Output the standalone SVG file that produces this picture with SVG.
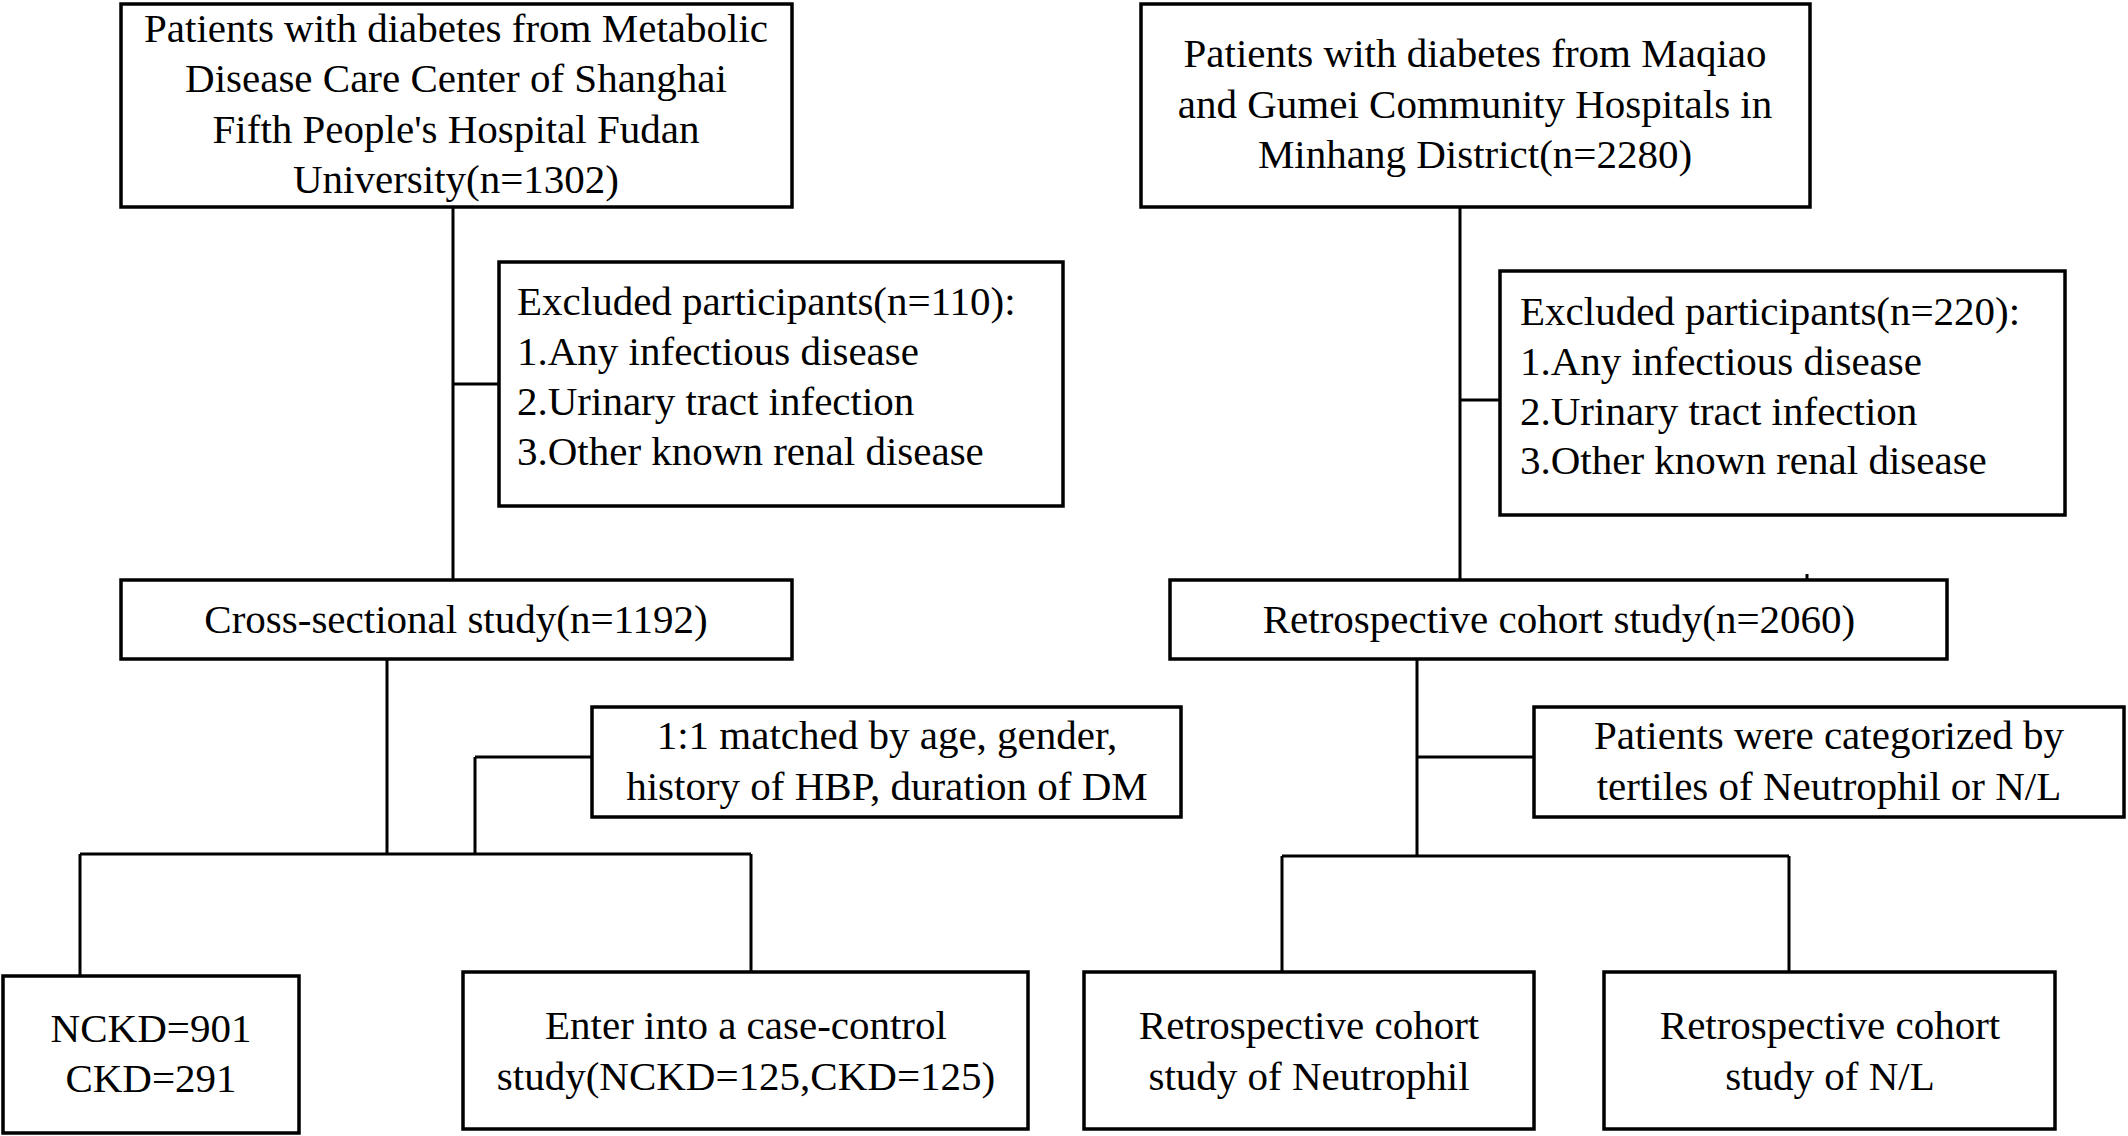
<svg xmlns="http://www.w3.org/2000/svg" width="2128" height="1136" viewBox="0 0 2128 1136">
<style>
.box{fill:#fff;stroke:#000;stroke-width:3.5}
.ln{fill:none;stroke:#000;stroke-width:3}
text{font-family:"Liberation Serif","Times New Roman",serif;font-size:41px;fill:#000}
.c{text-anchor:middle}
</style>
<rect width="2128" height="1136" fill="#fff"/>
<g id="connectors">
<path class="ln" d="M453,207V580M453,384H499"/>
<path class="ln" d="M1460,207V580M1460,400H1500"/>
<path class="ln" d="M387,659V854M80,854H751M80,854V976M751,854V972M475,757V854M475,757H592"/>
<path class="ln" d="M1417,659V856M1417,757H1534M1282,856H1789M1282,856V972M1789,856V972"/>
<path class="ln" d="M1807,574V580"/>
</g>
<g id="n1">
<rect class="box" x="121" y="4" width="671" height="203"/>
<text class="c" x="456" y="42">Patients with diabetes from Metabolic</text>
<text class="c" x="456" y="92">Disease Care Center of Shanghai</text>
<text class="c" x="456" y="143">Fifth People's Hospital Fudan</text>
<text class="c" x="456" y="193">University(n=1302)</text>
</g>
<g id="n2">
<rect class="box" x="1141" y="4" width="669" height="203"/>
<text class="c" x="1475" y="67">Patients with diabetes from Maqiao</text>
<text class="c" x="1475" y="118">and Gumei Community Hospitals in</text>
<text class="c" x="1475" y="168">Minhang District(n=2280)</text>
</g>
<g id="n3">
<rect class="box" x="499" y="262" width="564" height="244"/>
<text x="517" y="315">Excluded participants(n=110):</text>
<text x="517" y="365">1.Any infectious disease</text>
<text x="517" y="415">2.Urinary tract infection</text>
<text x="517" y="465">3.Other known renal disease</text>
</g>
<g id="n4">
<rect class="box" x="1500" y="271" width="565" height="244"/>
<text x="1520" y="325">Excluded participants(n=220):</text>
<text x="1520" y="375">1.Any infectious disease</text>
<text x="1520" y="425">2.Urinary tract infection</text>
<text x="1520" y="474">3.Other known renal disease</text>
</g>
<g id="n5">
<rect class="box" x="121" y="580" width="671" height="79"/>
<text class="c" x="456" y="633">Cross-sectional study(n=1192)</text>
</g>
<g id="n6">
<rect class="box" x="1170" y="580" width="777" height="79"/>
<text class="c" x="1559" y="633">Retrospective cohort study(n=2060)</text>
</g>
<g id="n7">
<rect class="box" x="592" y="707" width="589" height="110"/>
<text class="c" x="887" y="749">1:1 matched by age, gender,</text>
<text class="c" x="887" y="800">history of HBP, duration of DM</text>
</g>
<g id="n8">
<rect class="box" x="1534" y="707" width="590" height="110"/>
<text class="c" x="1829" y="749">Patients were categorized by</text>
<text class="c" x="1829" y="800">tertiles of Neutrophil or N/L</text>
</g>
<g id="n9">
<rect class="box" x="3" y="976" width="296" height="157"/>
<text class="c" x="151" y="1042">NCKD=901</text>
<text class="c" x="151" y="1092">CKD=291</text>
</g>
<g id="n10">
<rect class="box" x="463" y="972" width="565" height="157"/>
<text class="c" x="746" y="1039">Enter into a case-control</text>
<text class="c" x="746" y="1090">study(NCKD=125,CKD=125)</text>
</g>
<g id="n11">
<rect class="box" x="1084" y="972" width="450" height="157"/>
<text class="c" x="1309" y="1039">Retrospective cohort</text>
<text class="c" x="1309" y="1090">study of Neutrophil</text>
</g>
<g id="n12">
<rect class="box" x="1604" y="972" width="451" height="157"/>
<text class="c" x="1830" y="1039">Retrospective cohort</text>
<text class="c" x="1830" y="1090">study of N/L</text>
</g>
</svg>
